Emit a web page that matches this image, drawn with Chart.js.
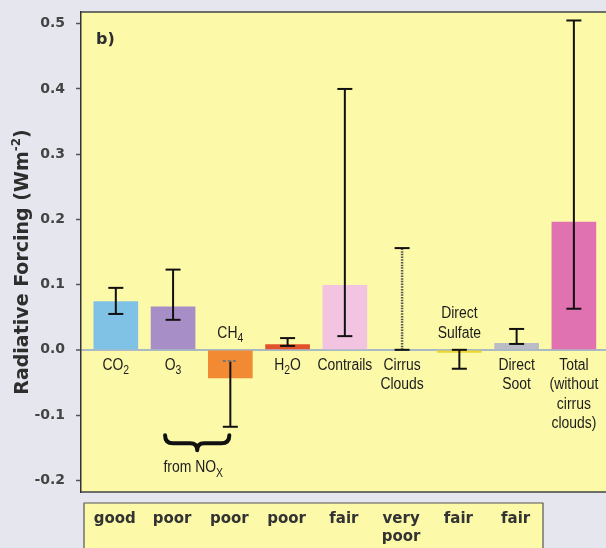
<!DOCTYPE html>
<html><head><meta charset="utf-8">
<script src="https://cdn.jsdelivr.net/npm/chart.js@4"></script>
<style>html,body{margin:0;padding:0;background:#e6e6ef;overflow:hidden}</style>
</head><body><canvas id="c" width="606" height="548"></canvas>
<script>
// ---- data ----
const categories = ['CO_2','O_3','CH_4','H_2O','Contrails','Cirrus\nClouds','Direct\nSulfate','Direct\nSoot','Total\n(without\ncirrus\nclouds)'];
const forcing  = [0.074, 0.066, -0.043, 0.008, 0.099, null, -0.004, 0.010, 0.196];
const errLow   = [0.055, 0.046, -0.118, 0.006, 0.021, 0.000, -0.029, 0.009, 0.063];
const errHigh  = [0.095, 0.123, -0.017, 0.018, 0.400, 0.156, 0.000, 0.032, 0.505];
const understanding = ['good','poor','poor','poor','fair','very\npoor','fair','fair'];
const yTicks = [0.5, 0.4, 0.3, 0.2, 0.1, 0.0, -0.1, -0.2];
const yTickLabels = ['0.5','0.4','0.3','0.2','0.1','0.0','-0.1','-0.2'];
const groupNote = 'from NO_X';
const panelLabel = 'b)';
const yTitleMain = 'Radiative Forcing (Wm', yTitleSup = '-2', yTitleEnd = ')';

// ---- styles ----
const barColors = ['#80c2e6','#a88ec6','#f18a32','#e1522c','#f3c4e2','rgba(0,0,0,0)','#ecd631','#b9bcc7','#e172b1'];
const errLineDash = [null,null,null,null,null,[1.5,1.2],null,null,null];
const errTopCapDashed = [false,false,true,false,false,false,false,false,false];
const PLOT_BG = '#fcf9a9';

function drawSub(ctx, str, cx, y, size, color) {
  const parts = [];
  for (let i = 0; i < str.length; i++) {
    if (str[i] === '_') { parts.push({t: str[i+1], sub: true}); i++; }
    else if (parts.length && !parts[parts.length-1].sub) parts[parts.length-1].t += str[i];
    else parts.push({t: str[i], sub: false});
  }
  const mainF = size + 'px "Liberation Sans", Arial, sans-serif';
  const subF = Math.round(size*0.72) + 'px "Liberation Sans", Arial, sans-serif';
  let w = 0;
  parts.forEach(p => { ctx.font = p.sub ? subF : mainF; p.w = ctx.measureText(p.t).width; w += p.w; });
  ctx.save();
  ctx.translate(cx, y); ctx.scale(0.87, 1);
  ctx.fillStyle = color; ctx.textAlign = 'left'; ctx.textBaseline = 'alphabetic';
  let x = -w/2;
  parts.forEach(p => { ctx.font = p.sub ? subF : mainF; ctx.fillText(p.t, x, p.sub ? size*0.28 : 0); x += p.w; });
  ctx.restore();
}

const decor = {
  id: 'decor',
  beforeDraw(chart) {
    const {ctx, chartArea: a} = chart;
    ctx.save();
    ctx.fillStyle = PLOT_BG;
    ctx.fillRect(a.left, a.top, a.right - a.left, a.bottom - a.top);
    ctx.restore();
  },
  afterDatasetsDraw(chart) {
    const {ctx, chartArea: a} = chart;
    const xs = chart.scales.x, ys = chart.scales.y;
    const z = ys.getPixelForValue(0);
    ctx.save();
    // error bars
    for (let i = 0; i < categories.length; i++) {
      const x = xs.getPixelForValue(i);
      const yl = ys.getPixelForValue(errLow[i]), yh = ys.getPixelForValue(errHigh[i]);
      ctx.strokeStyle = '#111'; ctx.lineWidth = 2; ctx.lineCap = 'butt';
      ctx.setLineDash(errLineDash[i] || []);
      if (errLineDash[i]) { ctx.strokeStyle = '#555'; ctx.lineWidth = 2.5; }
      ctx.beginPath(); ctx.moveTo(x, yl); ctx.lineTo(x, yh); ctx.stroke();
      ctx.setLineDash([]); ctx.strokeStyle = '#111'; ctx.lineWidth = 2;
      ctx.beginPath(); ctx.moveTo(x - 7.5, yl); ctx.lineTo(x + 7.5, yl); ctx.stroke();
      if (errTopCapDashed[i]) { ctx.setLineDash([3, 2]); ctx.strokeStyle = '#777'; }
      ctx.beginPath(); ctx.moveTo(x - 7.5, yh); ctx.lineTo(x + 7.5, yh); ctx.stroke();
      ctx.setLineDash([]);
    }
    // category labels
    for (let i = 0; i < categories.length; i++) {
      const x = xs.getPixelForValue(i);
      const lines = categories[i].split('\n');
      const n = lines.length;
      lines.forEach((ln, k) => {
        const y = (forcing[i] !== null && forcing[i] < 0) ? z - 12 - (n - 1 - k) * 19.5 : z + 20 + k * 19.4;
        drawSub(ctx, ln, x, y, 16, '#1c1c1c');
      });
    }
    // brace for NOx group
    const bx0 = xs.getPixelForValue(1) - 8, bx1 = xs.getPixelForValue(2) - 1;
    const bt = ys.getPixelForValue(-0.131), bm = bt + 8, bb = bt + 15, bc = (bx0 + bx1) / 2;
    ctx.strokeStyle = '#111'; ctx.lineWidth = 4; ctx.lineCap = 'round'; ctx.lineJoin = 'round';
    ctx.beginPath();
    ctx.moveTo(bx0, bt);
    ctx.quadraticCurveTo(bx0, bm, bx0 + 8, bm);
    ctx.lineTo(bc - 7, bm);
    ctx.quadraticCurveTo(bc, bm, bc, bb);
    ctx.quadraticCurveTo(bc, bm, bc + 7, bm);
    ctx.lineTo(bx1 - 8, bm);
    ctx.quadraticCurveTo(bx1, bm, bx1, bt);
    ctx.stroke();
    drawSub(ctx, groupNote, bc - 4, bb + 22, 16, '#1c1c1c');
    // plot frame (top and bottom)
    ctx.strokeStyle = '#444'; ctx.lineWidth = 1.5; ctx.lineCap = 'butt';
    ctx.beginPath();
    ctx.moveTo(a.left, a.top); ctx.lineTo(a.right, a.top);
    ctx.moveTo(a.left, a.bottom); ctx.lineTo(a.right, a.bottom);
    ctx.stroke();
    // panel label
    ctx.fillStyle = '#2e2e2e'; ctx.font = 'bold 16px "DejaVu Sans", sans-serif';
    ctx.textAlign = 'left'; ctx.textBaseline = 'alphabetic';
    ctx.fillText(panelLabel, a.left + 15, a.top + 32);
    // level-of-understanding table
    const tL = 84, tR = 543, tT = 503;
    ctx.fillStyle = PLOT_BG; ctx.fillRect(tL, tT, tR - tL, 60);
    ctx.strokeStyle = '#555'; ctx.lineWidth = 1.2; ctx.strokeRect(tL, tT, tR - tL, 60);
    ctx.fillStyle = '#333'; ctx.font = 'bold 15px "DejaVu Sans", sans-serif'; ctx.textAlign = 'center';
    understanding.forEach((u, i) => {
      const x = xs.getPixelForValue(i) - 1;
      u.split('\n').forEach((ln, k) => ctx.fillText(ln, x, 523 + k * 17.5));
    });
    // y title
    ctx.save();
    ctx.translate(28, (a.top + a.bottom) / 2 + 10);
    ctx.rotate(-Math.PI / 2);
    ctx.fillStyle = '#2e2e2e';
    const mf = 'bold 19px "DejaVu Sans", sans-serif', sf = 'bold 12px "DejaVu Sans", sans-serif';
    ctx.font = mf; const w1 = ctx.measureText(yTitleMain).width, w3 = ctx.measureText(yTitleEnd).width;
    ctx.font = sf; const w2 = ctx.measureText(yTitleSup).width;
    let x = -(w1 + w2 + w3) / 2;
    ctx.textAlign = 'left';
    ctx.font = mf; ctx.fillText(yTitleMain, x, 0); x += w1;
    ctx.font = sf; ctx.fillText(yTitleSup, x, -8); x += w2;
    ctx.font = mf; ctx.fillText(yTitleEnd, x, 0);
    ctx.restore();
    ctx.restore();
  }
};

new Chart(document.getElementById('c'), {
  type: 'bar',
  data: {
    datasets: [{
      data: forcing.map((v, i) => ({x: i, y: v})),
      backgroundColor: barColors,
      borderWidth: 0,
      barThickness: 44
    }]
  },
  options: {
    responsive: false,
    animation: false,
    layout: {padding: {top: 12, bottom: 56, left: 0, right: 0}},
    plugins: {legend: {display: false}, tooltip: {enabled: false}},
    scales: {
      x: {type: 'linear', offset: false, min: -0.608, max: 8.561, display: false},
      y: {
        min: -0.218, max: 0.518,
        afterFit(s) { s.width = 81; s.paddingTop = 0; s.paddingBottom = 0; },
        afterBuildTicks(s) { s.ticks = yTicks.map(v => ({value: v})); },
        ticks: {
          autoSkip: false,
          callback: (v, i) => yTickLabels[i],
          font: {family: '"DejaVu Sans", sans-serif', weight: 'bold', size: 14},
          color: '#444',
          padding: 11
        },
        grid: {
          drawOnChartArea: true,
          color: c => (c.tick && c.tick.value === 0) ? '#a9bac4' : 'rgba(0,0,0,0)',
          lineWidth: c => (c.tick && c.tick.value === 0) ? 2 : 1,
          tickLength: 5,
          tickColor: '#555',
          tickWidth: 1.5
        },
        border: {display: true, color: '#333', width: 1.5}
      }
    }
  },
  plugins: [decor]
});
</script>
</body></html>
